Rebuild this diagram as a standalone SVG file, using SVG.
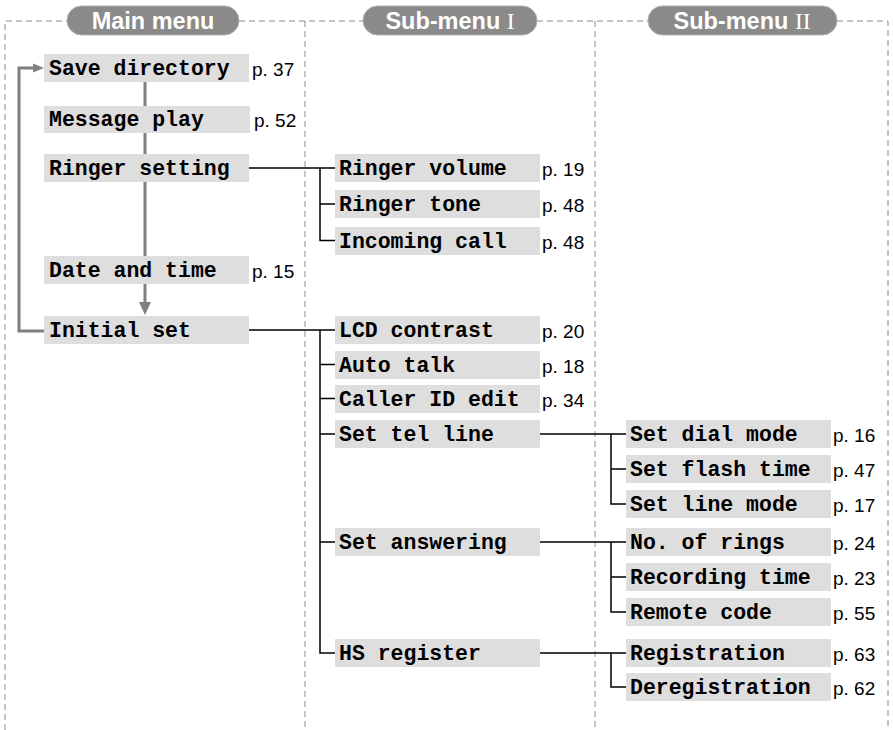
<svg xmlns="http://www.w3.org/2000/svg" width="893" height="730" viewBox="0 0 893 730">
<style>
.bg{fill:#fff}
.dash{fill:none;stroke:#8c8c8c;stroke-width:1;stroke-dasharray:6 4}
.pill{fill:#8a8a8a;stroke:#b0b0b0;stroke-width:1}
.ph{font-family:"Liberation Sans",Arial,sans-serif;font-weight:bold;font-size:23.5px;fill:#fff;text-anchor:middle}
.rn{font-family:"Liberation Serif","Times New Roman",serif;font-weight:normal}
.box{fill:#dedede}
.t{font-family:"Liberation Mono","Courier New",monospace;font-weight:bold;font-size:21.5px;fill:#000}
.p{font-family:"Liberation Sans",Arial,sans-serif;font-size:19px;fill:#000}
.flow{fill:none;stroke:#808080;stroke-width:3}
.ah{fill:#808080}
.con{fill:none;stroke:#000;stroke-width:1.5}
</style>
<rect class="bg" x="0" y="0" width="893" height="730"/>
<g id="frame">
<path class="dash" d="M5,730 V21 H67 M239,21 H363 M537,21 H648 M837,21 H888 V730 M305,21 V730 M595,21 V730"/>
</g>
<g id="header-main"><rect class="pill" x="67" y="6" width="172" height="29" rx="14.5"/><text class="ph" x="153" y="29">Main menu</text></g>
<g id="header-sub1"><rect class="pill" x="363" y="6" width="174" height="29" rx="14.5"/><text class="ph" x="450" y="29">Sub-menu <tspan class="rn">I</tspan></text></g>
<g id="header-sub2"><rect class="pill" x="648" y="6" width="189" height="29" rx="14.5"/><text class="ph" x="742" y="29">Sub-menu <tspan class="rn">II</tspan></text></g>

<g id="connectors">
<path class="flow" d="M145,82 V106 M145,133 V154 M145,182 V256 M145,284 V303"/>
<polygon class="ah" points="139,302 151,302 145,315"/>
<path class="flow" d="M44,331 H19 V68 H35"/>
<polygon class="ah" points="33,63.5 33,72.5 44,68"/>
<path class="con" d="M249,168 H335 M320,168 V240.5 H335 M320,204 H335"/>
<path class="con" d="M249,330 H335 M320,330 V653 H335 M320,364.5 H335 M320,398.5 H335 M320,434 H335 M320,542 H335"/>
<path class="con" d="M540,434 H626 M611,434 V504 H626 M611,469 H626"/>
<path class="con" d="M540,542 H626 M611,542 V612 H626 M611,577 H626"/>
<path class="con" d="M540,653 H626 M611,653 V687 H626"/>
</g>

<g id="save-directory"><rect class="box" x="44" y="54" width="205" height="28"/><text class="t" x="49" y="75">Save directory</text><text class="p" x="252" y="76">p. 37</text></g>
<g id="message-play"><rect class="box" x="44" y="106" width="206" height="27"/><text class="t" x="49" y="126">Message play</text><text class="p" x="254" y="127">p. 52</text></g>
<g id="ringer-setting"><rect class="box" x="44" y="154" width="205" height="28"/><text class="t" x="49" y="175">Ringer setting</text></g>
<g id="date-and-time"><rect class="box" x="44" y="256" width="205" height="28"/><text class="t" x="49" y="277">Date and time</text><text class="p" x="252" y="278">p. 15</text></g>
<g id="initial-set"><rect class="box" x="44" y="316" width="205" height="28"/><text class="t" x="49" y="337">Initial set</text></g>

<g id="ringer-volume"><rect class="box" x="335" y="154" width="205" height="28"/><text class="t" x="339" y="175">Ringer volume</text><text class="p" x="542" y="176">p. 19</text></g>
<g id="ringer-tone"><rect class="box" x="335" y="190" width="205" height="28"/><text class="t" x="339" y="211">Ringer tone</text><text class="p" x="542" y="212">p. 48</text></g>
<g id="incoming-call"><rect class="box" x="335" y="227" width="205" height="28"/><text class="t" x="339" y="248">Incoming call</text><text class="p" x="542" y="249">p. 48</text></g>
<g id="lcd-contrast"><rect class="box" x="335" y="316" width="205" height="28"/><text class="t" x="339" y="337">LCD contrast</text><text class="p" x="542" y="338">p. 20</text></g>
<g id="auto-talk"><rect class="box" x="335" y="351" width="205" height="28"/><text class="t" x="339" y="372">Auto talk</text><text class="p" x="542" y="373">p. 18</text></g>
<g id="caller-id-edit"><rect class="box" x="335" y="385" width="205" height="28"/><text class="t" x="339" y="406">Caller ID edit</text><text class="p" x="542" y="407">p. 34</text></g>
<g id="set-tel-line"><rect class="box" x="335" y="420" width="205" height="28"/><text class="t" x="339" y="441">Set tel line</text></g>
<g id="set-answering"><rect class="box" x="335" y="528" width="205" height="28"/><text class="t" x="339" y="549">Set answering</text></g>
<g id="hs-register"><rect class="box" x="335" y="639" width="205" height="28"/><text class="t" x="339" y="660">HS register</text></g>

<g id="set-dial-mode"><rect class="box" x="626" y="420" width="205" height="28"/><text class="t" x="630" y="441">Set dial mode</text><text class="p" x="833" y="442">p. 16</text></g>
<g id="set-flash-time"><rect class="box" x="626" y="455" width="205" height="28"/><text class="t" x="630" y="476">Set flash time</text><text class="p" x="833" y="477">p. 47</text></g>
<g id="set-line-mode"><rect class="box" x="626" y="490" width="205" height="28"/><text class="t" x="630" y="511">Set line mode</text><text class="p" x="833" y="512">p. 17</text></g>
<g id="no-of-rings"><rect class="box" x="626" y="528" width="205" height="28"/><text class="t" x="630" y="549">No. of rings</text><text class="p" x="833" y="550">p. 24</text></g>
<g id="recording-time"><rect class="box" x="626" y="563" width="205" height="28"/><text class="t" x="630" y="584">Recording time</text><text class="p" x="833" y="585">p. 23</text></g>
<g id="remote-code"><rect class="box" x="626" y="598" width="205" height="28"/><text class="t" x="630" y="619">Remote code</text><text class="p" x="833" y="620">p. 55</text></g>
<g id="registration"><rect class="box" x="626" y="639" width="205" height="28"/><text class="t" x="630" y="660">Registration</text><text class="p" x="833" y="661">p. 63</text></g>
<g id="deregistration"><rect class="box" x="626" y="673" width="205" height="28"/><text class="t" x="630" y="694">Deregistration</text><text class="p" x="833" y="695">p. 62</text></g>
</svg>
